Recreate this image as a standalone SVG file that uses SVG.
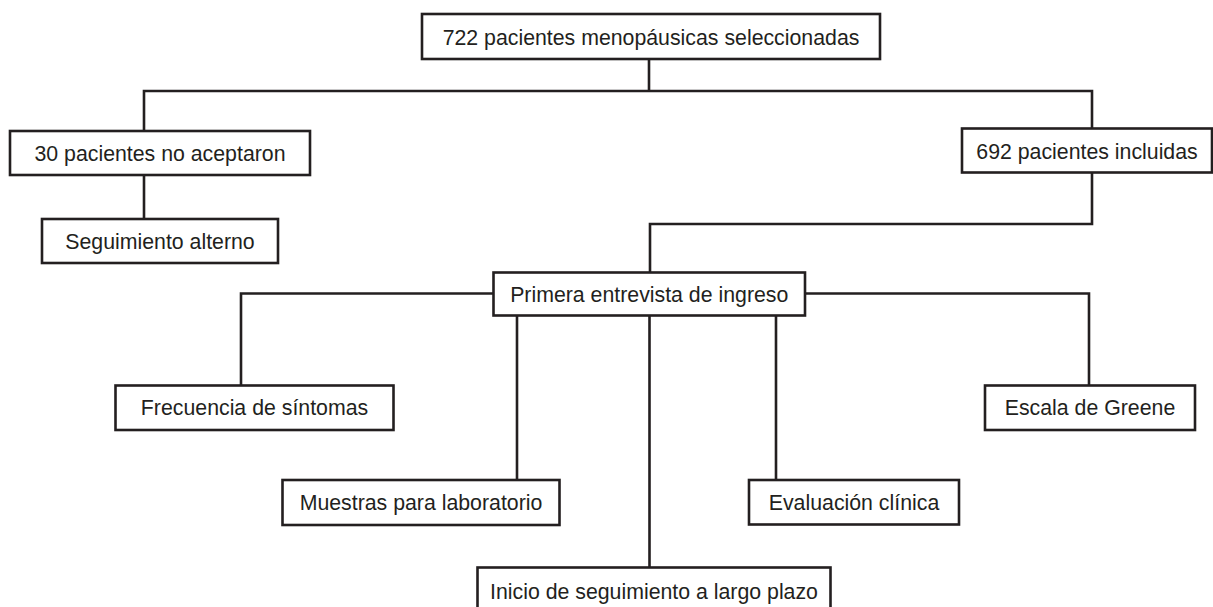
<svg xmlns="http://www.w3.org/2000/svg" width="1213" height="607" viewBox="0 0 1213 607">
<style>
.box{fill:#ffffff;stroke:#231f20;stroke-width:2.6}
.ln{fill:none;stroke:#231f20;stroke-width:2.6}
text{font-family:"Liberation Sans",Arial,sans-serif;font-size:21.3px;fill:#231f20;text-anchor:middle}
</style>
<rect width="1213" height="607" fill="#ffffff"/>
<g id="connectors">
<path class="ln" d="M649,59 V91 M144,131 V91 H1092 V128.5 M1092,172.5 V224 H650 V272.5"/>
<path class="ln" d="M144,175 V219"/>
<path class="ln" d="M493.5,293.5 H241 V385.5 M805,293.5 H1089 V385.5"/>
<path class="ln" d="M517,315.5 V480 M776,315.5 V480 M649.5,315.5 V567.5"/>
</g>
<g id="n-top"><rect class="box" x="422" y="14" width="458" height="45"/><text x="651" y="44.5">722 pacientes menopáusicas seleccionadas</text></g>
<g id="n-30"><rect class="box" x="10" y="131" width="300" height="44"/><text x="160" y="161">30 pacientes no aceptaron</text></g>
<g id="n-seg"><rect class="box" x="42" y="219" width="236" height="44"/><text x="160" y="248.5">Seguimiento alterno</text></g>
<g id="n-692"><rect class="box" x="962" y="128.5" width="250" height="44"/><text x="1087" y="159">692 pacientes incluidas</text></g>
<g id="n-primera"><rect class="box" x="493.5" y="272.5" width="311.5" height="43"/><text x="649.25" y="301.5">Primera entrevista de ingreso</text></g>
<g id="n-frec"><rect class="box" x="115.5" y="385.5" width="278" height="44.5"/><text x="254.5" y="415">Frecuencia de síntomas</text></g>
<g id="n-escala"><rect class="box" x="985" y="385.5" width="210" height="44.5"/><text x="1090" y="415">Escala de Greene</text></g>
<g id="n-muestras"><rect class="box" x="282.5" y="480" width="277" height="45"/><text x="421" y="510">Muestras para laboratorio</text></g>
<g id="n-eval"><rect class="box" x="749" y="480" width="210" height="44.5"/><text x="854" y="510">Evaluación clínica</text></g>
<g id="n-inicio"><rect class="box" x="477.5" y="567.5" width="353" height="46"/><text x="654" y="598.5">Inicio de seguimiento a largo plazo</text></g>
</svg>
